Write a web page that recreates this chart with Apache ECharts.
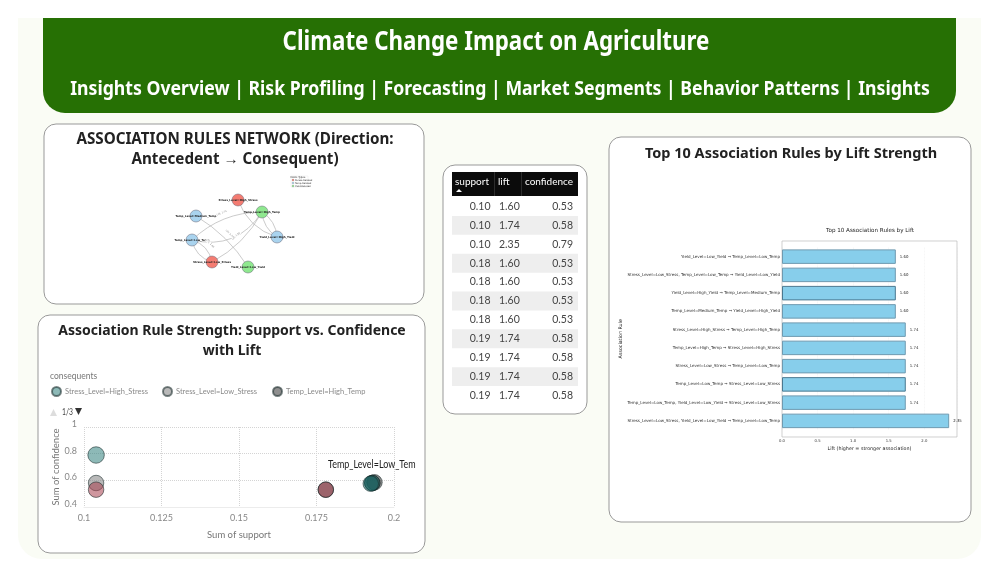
<!DOCTYPE html>
<html><head><meta charset="utf-8">
<style>html,body{margin:0;padding:0;background:#fff}#c{width:1000px;height:578px}</style>
<script src="https://cdn.jsdelivr.net/npm/echarts@6/dist/echarts.min.js"></script>
</head><body><div id="c"></div>
<script>
const pageTitle = 'Climate Change Impact on Agriculture';
const navText = 'Insights Overview | Risk Profiling | Forecasting | Market Segments | Behavior Patterns | Insights';

const netNames = ['Stress_Level=High_Stress','Temp_Level=High_Temp','Yield_Level=High_Yield','Temp_Level=Medium_Temp','Temp_Level=Low_Temp','Stress_Level=Low_Stress','Yield_Level=Low_Yield'];
const netX = [88,112,127,46,42,62,98];
const netY = [30,42,67,46,70,92,97];
const netType = ['s','y','t','t','t','s','y'];
// source, target, curveness, lift label
const netEdges = [[0,2,-0.25,''],[1,2,0.25,''],[2,1,0.25,''],[3,6,0.12,'Lift: 1.74'],[4,1,0.2,'Lift: 1.74'],[4,1,-0.35,''],[5,1,-0.15,'Lift: 1.60'],[4,5,0.3,'Lift: 1.60'],[5,4,0.3,'']];

const tableHead = ['support','lift','confidence'];
const tableSupport = ['0.10','0.10','0.10','0.18','0.18','0.18','0.18','0.19','0.19','0.19','0.19'];
const tableLift = ['1.60','1.74','2.35','1.60','1.60','1.60','1.60','1.74','1.74','1.74','1.74'];
const tableConf = ['0.53','0.58','0.79','0.53','0.53','0.53','0.53','0.58','0.58','0.58','0.58'];

const scStressHigh = [[0.1039,0.79]];
const scStressLow = [[0.1039,0.58],[0.193,0.58]];
const scTempHigh = [[0.178,0.53],[0.1937,0.585]];
const scTempLow = [[0.1039,0.53],[0.178,0.53]];
const scYield = [[0.193,0.58],[0.1925,0.575]];

const rules = ['Yield_Level=Low_Yield → Temp_Level=Low_Temp','Stress_Level=Low_Stress, Temp_Level=Low_Temp → Yield_Level=Low_Yield','Yield_Level=High_Yield → Temp_Level=Medium_Temp','Temp_Level=Medium_Temp → Yield_Level=High_Yield','Stress_Level=High_Stress → Temp_Level=High_Temp','Temp_Level=High_Temp → Stress_Level=High_Stress','Stress_Level=Low_Stress → Temp_Level=Low_Temp','Temp_Level=Low_Temp → Stress_Level=Low_Stress','Temp_Level=Low_Temp, Yield_Level=Low_Yield → Stress_Level=Low_Stress','Stress_Level=Low_Stress, Yield_Level=Low_Yield → Temp_Level=Low_Temp'];
const lifts = [1.60,1.60,1.60,1.60,1.74,1.74,1.74,1.74,1.74,2.35];
const darkEdgeRows = [2,7];

const F = 'Lato, sans-serif';
const H = '"Noto Sans", sans-serif';
const D = '"DejaVu Sans", sans-serif';
const chart = echarts.init(document.getElementById('c'));
const panel = (x,y,w,h,r) => ({type:'rect',silent:true,z:0,shape:{x,y,width:w,height:h,r:r||12},style:{fill:'#fff',stroke:'#999',lineWidth:1}});
const txt = (x,y,t,size,opt) => Object.assign({type:'text',silent:true,z:5,x,y,style:Object.assign({text:t,font:(opt&&opt.weight||'normal')+' '+size+'px '+(opt&&opt.family||F),fill:'#222',textAlign:'center',textVerticalAlign:'middle'},opt&&opt.style||{})},opt&&opt.scaleX?{scaleX:opt.scaleX}:{});

const g = [
  {type:'rect',silent:true,z:-1,shape:{x:18,y:18,width:963,height:541,r:[0,0,24,24]},style:{fill:'#fafcf5'}},
  {type:'rect',silent:true,z:1,shape:{x:43,y:18,width:913,height:95,r:[0,0,22,22]},style:{fill:'#267004'}},
  txt(496,42,pageTitle,27,{weight:'bold',family:H,scaleX:0.827,style:{fill:'#fff'}}),
  txt(500,89,navText,20,{weight:'bold',family:H,scaleX:0.883,style:{fill:'#fff'}}),
  panel(44,124,380,180),
  panel(38,315,387,238),
  panel(443,165,144,249),
  panel(609,137,362,385),
  txt(235,140,'ASSOCIATION RULES NETWORK (Direction:',15.2,{weight:'bold',family:H}),
  txt(235,160,'Antecedent → Consequent)',15.2,{weight:'bold',family:H}),
  txt(232,331,'Association Rule Strength: Support vs. Confidence',14,{weight:'bold',family:H}),
  txt(232,351,'with Lift',14,{weight:'bold',family:H}),
  txt(791,154,'Top 10 Association Rules by Lift Strength',14.5,{weight:'bold',family:H}),
  txt(50,376,'consequents',8.5,{style:{fill:'#777',textAlign:'left'}}),
  txt(62,412,'1/3',8.5,{scaleX:0.8,style:{fill:'#444',textAlign:'left'}}),
  {type:'polygon',silent:true,z:5,shape:{points:[[50,416],[57,416],[53.5,409]]},style:{fill:'#ddd'}},
  {type:'polygon',silent:true,z:5,shape:{points:[[75,408],[82,408],[78.5,415]]},style:{fill:'#333'}},
  txt(328,465,'Temp_Level=Low_Tem',10.5,{scaleX:0.854,style:{fill:'#222',textAlign:'left'}}),
  // inner bar chart title and frame
  txt(870,231,'Top 10 Association Rules by Lift',5.6,{family:D}),
  {type:'rect',silent:true,z:2,shape:{x:782,y:241,width:175,height:196},style:{fill:'none',stroke:'#bbb',lineWidth:0.7}},
  // small network legend
  txt(298,177,'Node Types',2.6,{family:D}),
  {type:'rect',silent:true,z:5,shape:{x:291,y:176,width:17,height:11},style:{fill:'none',stroke:'#e5e5e5',lineWidth:0.4}},
  // table
  {type:'rect',silent:true,z:3,shape:{x:452,y:172,width:126,height:24},style:{fill:'#0b0b0b'}},
  txt(455,182,tableHead[0],10,{style:{fill:'#fff',textAlign:'left'}}),
  txt(498,182,tableHead[1],10,{style:{fill:'#fff',textAlign:'left'}}),
  txt(573,182,tableHead[2],10,{style:{fill:'#fff',textAlign:'right'}}),
  {type:'polygon',silent:true,z:5,shape:{points:[[456,192],[462,192],[459,189]]},style:{fill:'#fff'}},
  {type:'line',silent:true,z:5,shape:{x1:494.5,y1:172,x2:494.5,y2:196},style:{stroke:'#444',lineWidth:0.6}},
  {type:'line',silent:true,z:5,shape:{x1:521.5,y1:172,x2:521.5,y2:196},style:{stroke:'#444',lineWidth:0.6}}
];
tableSupport.forEach((s,i)=>{
  const y = 206.5 + i*18.9;
  if(i%2===1) g.push({type:'rect',silent:true,z:3,shape:{x:452,y:y-9.45,width:126,height:18.9},style:{fill:'#eeeeee'}});
  g.push(txt(490.5,y,s,10.5,{style:{fill:'#444',textAlign:'right'}}));
  g.push(txt(499,y,tableLift[i],10.5,{style:{fill:'#444',textAlign:'left'}}));
  g.push(txt(573,y,tableConf[i],10.5,{style:{fill:'#444',textAlign:'right'}}));
});
const legRows=[['Stress-Related','#f47c72',180],['Temp-Related','#aed6ef',183],['Yield-Related','#8fe88f',186]];
legRows.forEach(r=>{
  g.push({type:'circle',silent:true,z:5,shape:{cx:293,cy:r[2],r:1},style:{fill:r[1],stroke:'#555',lineWidth:0.2}});
  g.push(txt(295,r[2],r[0],2.4,{family:D,style:{textAlign:'left',fill:'#333'}}));
});

const netColor = {s:'#f47c72',t:'#a9d3ee',y:'#8fe88f'};
const netData = netNames.map((n,i)=>({name:n,value:[netX[i],netY[i]],itemStyle:{color:netColor[netType[i]]}}));
const netLinks = netEdges.map(e=>({source:e[0],target:e[1],lineStyle:{curveness:e[2]},
  label:{show:!!e[3],formatter:e[3]}}));
const ptSeries = (name,data,color,size) => ({name,type:'scatter',xAxisIndex:1,yAxisIndex:1,data,symbolSize:size||16,z:4,
  itemStyle:{color,opacity:0.55,borderColor:'#122',borderWidth:1}});
const legendItem = (name,left) => ({left,top:386,padding:0,itemWidth:9,itemHeight:9,itemGap:0,icon:'circle',data:[name],
  textStyle:{fontFamily:F,fontSize:7.5,color:'#8a8a8a',padding:[0,0,0,-1]},selectedMode:false});

chart.setOption({
  animation:false,
  backgroundColor:'#ffffff',
  graphic:g,
  legend:[legendItem('Stress_Level=High_Stress',51),legendItem('Stress_Level=Low_Stress',162),legendItem('Temp_Level=High_Temp',272)],
  grid:[
    {left:150,top:170,width:180,height:110},
    {left:84,top:427,width:310,height:80},
    {left:782,top:247.5,width:175,height:182.5}
  ],
  xAxis:[
    {gridIndex:0,type:'value',min:0,max:180,show:false},
    {gridIndex:1,type:'value',min:0.1,max:0.2,interval:0.025,name:'Sum of support',nameLocation:'middle',nameGap:23,
      nameTextStyle:{fontFamily:F,fontSize:9.5,color:'#777'},
      axisLine:{lineStyle:{color:'#ececec'}},axisTick:{show:false},
      axisLabel:{fontFamily:F,fontSize:9,color:'#888',margin:7,formatter:v=>String(+v.toFixed(3))},
      splitLine:{show:true,lineStyle:{type:'dotted',color:'#d4d4d4'}}},
    {gridIndex:2,type:'value',min:0,max:2.46,interval:0.5,offset:7,name:'Lift (higher = stronger association)',nameLocation:'middle',nameGap:9,
      nameTextStyle:{fontFamily:D,fontSize:4.8,color:'#222'},
      axisLine:{show:false},axisTick:{length:1,lineStyle:{color:'#888',width:0.4}},
      axisLabel:{fontFamily:D,fontSize:3.8,color:'#333',margin:2,formatter:v=>v>2.1?'':v.toFixed(1)},
      splitLine:{show:true,lineStyle:{color:'#eee',width:0.5,type:'dashed'}}}
  ],
  yAxis:[
    {gridIndex:0,type:'value',min:0,max:110,inverse:true,show:false},
    {gridIndex:1,type:'value',min:0.4,max:1,interval:0.2,name:'Sum of confidence',nameLocation:'middle',nameGap:20,
      nameTextStyle:{fontFamily:F,fontSize:9.5,color:'#777'},
      axisLine:{show:false},axisTick:{show:false},
      axisLabel:{fontFamily:F,fontSize:9,color:'#888',margin:7,verticalAlign:'bottom',lineHeight:6,formatter:v=>String(+v.toFixed(1))},
      splitLine:{show:true,lineStyle:{type:'dotted',color:'#d4d4d4'}}},
    {gridIndex:2,type:'category',inverse:true,data:rules,name:'Association Rule',nameLocation:'middle',nameGap:157,
      nameTextStyle:{fontFamily:D,fontSize:4.8,color:'#222'},
      axisLine:{show:false},axisTick:{length:1,lineStyle:{color:'#888',width:0.4}},
      axisLabel:{fontFamily:D,fontSize:4.05,color:'#333',margin:2,interval:0}}
  ],
  series:[
    {type:'graph',coordinateSystem:'cartesian2d',xAxisIndex:0,yAxisIndex:0,layout:'none',data:netData,links:netLinks,
      symbolSize:12,z:3,
      itemStyle:{borderColor:'#667',borderWidth:0.5},
      lineStyle:{color:'#b5b5b5',width:0.7,opacity:1},
      edgeSymbol:['none','none'],
      edgeLabel:{show:false,fontFamily:D,fontSize:2.4,color:'#888',backgroundColor:'#fff',padding:0.5},
      label:{show:true,position:'inside',fontFamily:D,fontSize:2.7,color:'#222',fontWeight:'bold'}},
    ptSeries('Stress_Level=High_Stress',scStressHigh,'#2f7f7c',16.5),
    ptSeries('Stress_Level=Low_Stress',scStressLow,'#7f7f7f',15.5),
    ptSeries('Temp_Level=High_Temp',scTempHigh,'#333333',15.5),
    ptSeries('Temp_Level=Low_Temp',scTempLow,'#a8404f',15.5),
    ptSeries('Yield_Level',scYield,'#12605f',15.5),
    {type:'bar',xAxisIndex:2,yAxisIndex:2,barWidth:14.5,z:3,
      data:lifts.map((v,i)=>({value:v,itemStyle:{borderColor:darkEdgeRows.includes(i)?'#4a7890':'#6f9ab0'}})),
      itemStyle:{color:'#87ceeb',borderWidth:1},
      label:{show:true,position:'right',distance:4,fontFamily:D,fontSize:3.9,color:'#222',formatter:p=>p.value.toFixed(2)}}
  ]
});
</script></body></html>
